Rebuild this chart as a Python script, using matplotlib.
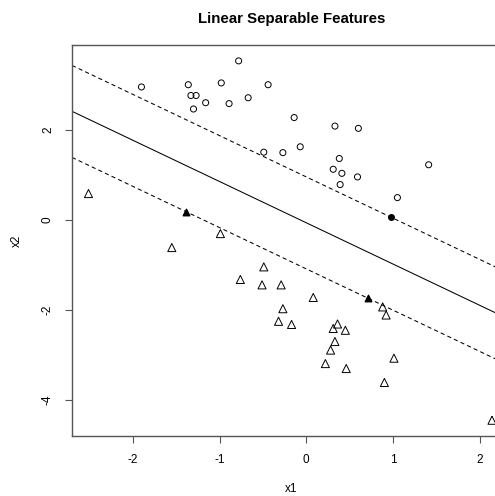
import matplotlib as mpl
import numpy as np

mpl.use("Agg")
import matplotlib.pyplot as plt

# class +1 (open circles)
circle_x1 = [-1.90, -1.36, -1.33, -1.27, -1.30, -1.16, -0.98, -0.78, -0.89, -0.67,
             -0.44, -0.14, -0.49, -0.27, -0.07, 0.33, 0.60, 0.38, 0.31, 0.41,
             0.59, 0.39, 1.41, 1.05]
circle_x2 = [2.96, 3.01, 2.77, 2.77, 2.47, 2.61, 3.05, 3.54, 2.59, 2.72,
             3.01, 2.28, 1.51, 1.50, 1.63, 2.09, 2.04, 1.37, 1.13, 1.04,
             0.96, 0.79, 1.23, 0.50]

# class -1 (open triangles)
tri_x1 = [-2.51, -0.99, -1.55, -0.49, -0.76, -0.51, -0.29, 0.08, -0.27, 0.88,
          0.92, -0.32, -0.17, 0.36, 0.31, 0.45, 0.33, 0.28, 0.22, 0.46,
          1.01, 0.90, 2.14]
tri_x2 = [0.59, -0.30, -0.61, -1.04, -1.32, -1.44, -1.44, -1.72, -1.97, -1.93,
          -2.11, -2.25, -2.32, -2.31, -2.41, -2.45, -2.70, -2.89, -3.19, -3.30,
          -3.07, -3.61, -4.45]

# support vectors (filled)
sv_circle = (0.98, 0.06)
sv_tri_x1 = [-1.39, 0.71]
sv_tri_x2 = [0.19, -1.73]

# separating hyperplane and margins: x2 = intercept + slope * x1
slope = -0.918
intercepts = [-0.06, 0.96, -1.085]
styles = ["-", "--", "--"]

plt.rcParams["font.family"] = ["Liberation Sans", "DejaVu Sans"]
plt.rcParams["axes.unicode_minus"] = False

fig = plt.figure(figsize=(4.95, 4.96), dpi=100)
ax = fig.add_axes([0.1455, 0.121, 0.887, 0.788])

ax.scatter(circle_x1, circle_x2, marker="o", s=19, facecolors="none",
           edgecolors="black", linewidths=0.7)
ax.scatter(tri_x1, tri_x2, marker="^", s=34, facecolors="none",
           edgecolors="black", linewidths=0.7)
ax.scatter([sv_circle[0]], [sv_circle[1]], marker="o", s=16, color="black")
ax.scatter(sv_tri_x1, sv_tri_x2, marker="^", s=22, color="black")

for b, ls in zip(intercepts, styles):
    ax.axline((0, b), slope=slope, color="black", linewidth=0.75, linestyle=ls,
              dashes=(4, 3) if ls == "--" else (None, None))

ax.set_xlim(-2.70, 2.36)
ax.set_ylim(-4.80, 3.89)
ax.set_xticks([-2, -1, 0, 1, 2])
ax.set_yticks([-4, -2, 0, 2])

for s in ax.spines.values():
    s.set_color("#555555")
    s.set_linewidth(1.0)
ax.tick_params(direction="out", length=5, width=0.8, color="#555555",
               labelsize=8.5, pad=8)
for lbl in ax.get_yticklabels():
    lbl.set_rotation(90)
    lbl.set_va("center")

ax.set_xlabel("x1", fontsize=8.5, labelpad=12)
ax.set_ylabel("x2", fontsize=8.5, labelpad=14)
fig.suptitle("Linear Separable Features", fontsize=10.8, fontweight="bold",
             x=(0.1455 + 0.1455 + 0.887) / 2, y=0.975)

plt.savefig("out.png", dpi=100)
plt.close(fig)
